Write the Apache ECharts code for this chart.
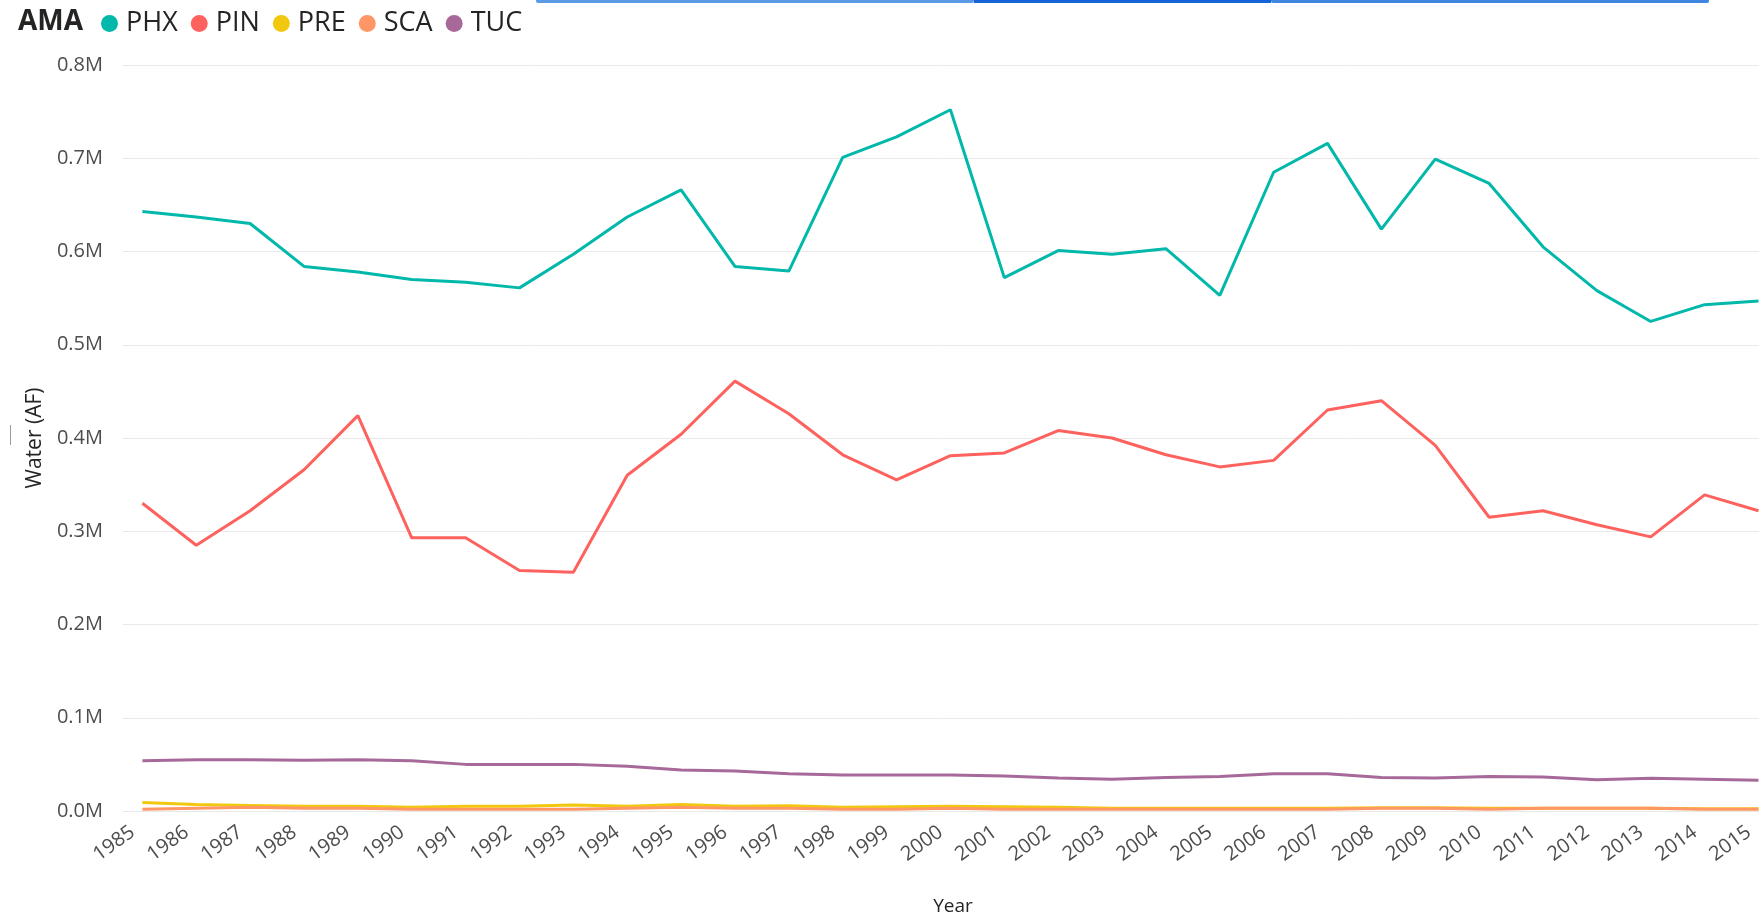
<!DOCTYPE html>
<html>
<head>
<meta charset="utf-8">
<title>Water (AF) by Year and AMA</title>
<script src="https://cdn.jsdelivr.net/npm/echarts@6/dist/echarts.min.js"></script>
<style>
  html, body { margin: 0; padding: 0; background: #fff; }
  #chart { width: 1759px; height: 917px; }
</style>
</head>
<body>
<div id="chart"></div>
<script>
// tick labels on the x axis (one per year)
const years = [1985, 1986, 1987, 1988, 1989, 1990, 1991, 1992, 1993, 1994, 1995,
  1996, 1997, 1998, 1999, 2000, 2001, 2002, 2003, 2004, 2005,
  2006, 2007, 2008, 2009, 2010, 2011, 2012, 2013, 2014, 2015]

// water use per AMA, acre-feet
const phx = [643000, 637000, 630000, 584000, 578000, 570000, 567000, 561000, 597000, 637000, 666000,
  584000, 579000, 701000, 723000, 752000, 572000, 601000, 597000, 603000, 553000,
  685000, 716000, 624000, 699000, 673000, 605000, 558000, 525000, 543000, 547000]
const pin = [330000, 285000, 322000, 366000, 424000, 293000, 293000, 258000, 256000, 360000, 404000,
  461000, 426000, 382000, 355000, 381000, 384000, 408000, 400000, 382000, 369000,
  376000, 430000, 440000, 392000, 315000, 322000, 307000, 294000, 339000, 322000]
const pre = [9000, 7000, 6000, 5000, 5000, 4000, 5000, 5000, 6500, 5000, 7000,
  5000, 5500, 4000, 4500, 5000, 4500, 4000, 3000, 3000, 3000,
  3000, 3000, 3500, 3500, 3000, 3000, 3000, 3000, 2500, 2500]
const sca = [2000, 3000, 4000, 3000, 3000, 2000, 2000, 2000, 2000, 3000, 4000,
  3000, 3000, 2000, 2000, 3000, 2000, 2000, 2000, 2000, 2000,
  2000, 2000, 3000, 3000, 2000, 3000, 3000, 3000, 2000, 2000]
const tuc = [54000, 55000, 55000, 54500, 55000, 54000, 50000, 50000, 50000, 48000, 44000,
  43000, 40000, 38500, 38500, 38500, 37500, 35500, 34000, 36000, 37000,
  40000, 40000, 36000, 35500, 37000, 36500, 33500, 35000, 34000, 33000]

const amaNames = ['PHX', 'PIN', 'PRE', 'SCA', 'TUC']
const amaValues = [phx, pin, pre, sca, tuc]
const palette = ['#01B8AA', '#FD625E', '#F2C80F', '#FE9666', '#A66999']

const FONT = "'Segoe UI', 'Open Sans', sans-serif"

const chart = echarts.init(document.getElementById('chart'))

const option = {
  backgroundColor: '#fff',
  animation: false,
  color: palette,
  title: {
    text: 'AMA',
    left: 13,
    top: 3,
    textStyle: { fontFamily: FONT, fontSize: 28, fontWeight: 'bold', color: '#252423' },
  },
  legend: {
    left: 96,
    top: 5,
    icon: 'circle',
    itemWidth: 17,
    itemHeight: 17,
    itemGap: 13,
    data: amaNames,
    textStyle: { fontFamily: FONT, fontSize: 27, color: '#252423', padding: [0, 0, 0, 3] },
  },
  grid: {
    left: 123,
    top: 65,
    bottom: 106,
    width: 1660,
    outerBoundsMode: 'none',
  },
  xAxis: {
    type: 'value',
    min: 1984.64,
    max: 2015.455,
    name: 'Year',
    nameLocation: 'middle',
    nameGap: 86,
    nameTextStyle: { fontFamily: FONT, fontSize: 19, color: '#252423' },
    axisLine: { show: false },
    axisTick: { show: false },
    splitLine: { show: false },
    axisLabel: {
      customValues: years,
      rotate: 36,
      margin: 12,
      padding: [0, 12, 0, 0],
      fontFamily: FONT,
      fontSize: 20,
      color: '#4F4D4B',
      formatter: (v) => String(Math.round(v)),
    },
  },
  yAxis: {
    type: 'value',
    min: 0,
    max: 800000,
    interval: 100000,
    name: 'Water (AF)',
    nameLocation: 'middle',
    nameGap: 72,
    nameTextStyle: { fontFamily: FONT, fontSize: 21, color: '#252423' },
    axisLine: { show: false },
    axisTick: { show: false },
    splitLine: { lineStyle: { color: '#E9E9E9', width: 1 } },
    axisLabel: {
      margin: 20,
      fontFamily: FONT,
      fontSize: 20,
      color: '#4F4D4B',
      formatter: (v) => (v / 1000000).toFixed(1) + 'M',
    },
  },
  series: amaNames.map((name, i) => ({
    name: name,
    type: 'line',
    symbol: 'none',
    lineStyle: { width: 3, color: palette[i] },
    itemStyle: { color: palette[i] },
    data: years.map((y, j) => [y, amaValues[i][j]]),
  })),
  graphic: [
    // the selection bar cut off at the top of the screenshot
    { type: 'rect', shape: { x: 536, y: 0, width: 438, height: 3, r: [0, 0, 2, 2] }, style: { fill: '#5B9BE6' } },
    { type: 'rect', shape: { x: 974, y: 0, width: 297, height: 3 }, style: { fill: '#1565D8' } },
    { type: 'rect', shape: { x: 1271, y: 0, width: 438, height: 3, r: [0, 0, 2, 2] }, style: { fill: '#3F86E0' } },
    { type: 'line', shape: { x1: 10.5, y1: 425, x2: 10.5, y2: 445 }, style: { stroke: '#9A9A9A', lineWidth: 1 } },
  ],
}

chart.setOption(option)
</script>
</body>
</html>
